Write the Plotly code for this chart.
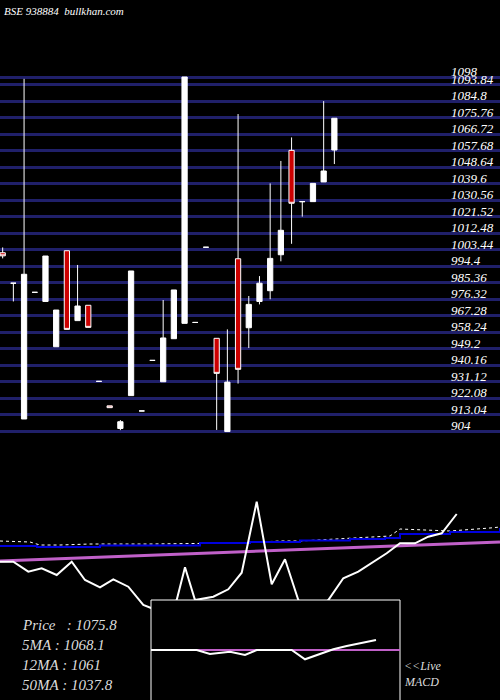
import plotly.graph_objects as go

# daily candles (oldest -> newest)
opens  = [1001.7, 985, 910.6, 980, 975, 950.2, 1002.8, 964.5, 972.9, 931.2, 917.8, 905.4, 923.4, 915, 942.7, 931,
          954.6, 963, 963.5, 1004.7, 954.8, 903.7, 998.4, 960.6, 975, 980.9, 1000.6, 1057.8, 1029.7, 1029.7, 1040.5, 1058]
highs  = [1004.6, 985, 1097, 980, 999.9, 970.3, 1002.8, 995, 972.9, 931.2, 917.8, 910, 991.7, 915, 942.7, 975.8,
          981.3, 1098, 963.5, 1004.7, 954.8, 959.7, 1077.7, 978, 988.9, 1039.7, 1052, 1064.9, 1029.7, 1039.7, 1084.8, 1075.4]
lows   = [998.6, 975, 910.6, 980, 975, 950.2, 959.7, 964.5, 960.8, 931.2, 916.8, 904.5, 923.4, 915, 942.7, 931,
          954.6, 963, 963.5, 1004.7, 904.6, 903.7, 930, 949.5, 973.4, 976.2, 997, 1006.6, 1021.5, 1029.7, 1040.5, 1050.3]
closes = [1000, 985, 989.9, 980, 999.9, 970.3, 959.7, 972.5, 960.8, 931.2, 916.8, 909.1, 991.7, 915, 942.7, 955,
          981.3, 1098, 963.5, 1004.7, 935.6, 930.8, 937.8, 973.4, 985, 998.6, 1014, 1028.8, 1029.7, 1039.7, 1046.5, 1075.4]

price_levels = [904, 913.04, 922.08, 931.12, 940.16, 949.2, 958.24, 967.28, 976.32, 985.36, 994.4, 1003.44,
                1012.48, 1021.52, 1030.56, 1039.6, 1048.64, 1057.68, 1066.72, 1075.76, 1084.8, 1093.84, 1098]
level_labels = ["904", "913.04", "922.08", "931.12", "940.16", "949.2", "958.24", "967.28", "976.32", "985.36",
                "994.4", "1003.44", "1012.48", "1021.52", "1030.56", "1039.6", "1048.64", "1057.68", "1066.72",
                "1075.76", "1084.8", "1093.84", "1098"]

# lower panel (panel units, 0 at top of window)
osc_x = [0, 13.3, 28.3, 41.7, 56.7, 71.7, 85, 100, 113.3, 128.3, 143.3, 151.7, 165, 176.7, 185, 195, 213.3, 228.3,
         241.7, 256.7, 271.7, 285, 298.3, 313, 328.3, 343.3, 358.3, 371.7, 386.7, 400, 415, 428.3, 441.7, 456.7]
osc_y = [561.7, 561.7, 571.7, 568.3, 575, 561.7, 580, 587.3, 579.3, 586.7, 605, 608.3, 612, 600, 567.3, 600, 596.7,
         589.3, 572.7, 501.7, 584.3, 559.3, 600, 615, 600, 578.3, 571.7, 563.3, 553.3, 543.3, 543.3, 536.7, 533.3, 514]
blue_x = [0, 30, 37, 100, 200, 250, 300, 350, 385, 400, 450, 500]
blue_y = [546, 546, 547, 545.5, 543, 542, 540.5, 539, 538, 534, 532, 528]
dot_x = [0, 30, 40, 60, 90, 150, 240, 280, 300, 360, 390, 400, 450, 490, 500]
dot_y = [541, 542, 545, 545, 544, 544, 543, 541, 541, 538, 536, 529, 531, 528, 527]
pink_x = [0, 500]
pink_y = [561, 542]
macd_x = [151, 196.7, 210, 230, 245, 256.7, 291.7, 305, 333.3, 346.7, 376]
macd_y = [650, 650, 654, 651.7, 655, 650, 650, 659.3, 649.3, 646, 640]
sig_x = [151, 400]
sig_y = [650, 650]
box_x = [151, 400, 400, 151, 151]
box_y = [600, 600, 701, 701, 600]

serif = "Liberation Serif"
fig = go.Figure()

fig.add_trace(go.Candlestick(
    x=list(range(len(opens))), open=opens, high=highs, low=lows, close=closes,
    increasing=dict(line=dict(color="white", width=1), fillcolor="white"),
    decreasing=dict(line=dict(color="white", width=1), fillcolor="#cc0000"),
    whiskerwidth=0, showlegend=False, hoverinfo="skip"))

ax2 = dict(xaxis="x2", yaxis="y2", mode="lines", showlegend=False, hoverinfo="skip")
fig.add_trace(go.Scatter(x=dot_x, y=dot_y, line=dict(color="white", width=1, dash="dot"), **ax2))
fig.add_trace(go.Scatter(x=blue_x, y=blue_y, line=dict(color="#0000dd", width=2, shape="hv"), **ax2))
fig.add_trace(go.Scatter(x=pink_x, y=pink_y, line=dict(color="#c060c8", width=3), **ax2))
fig.add_trace(go.Scatter(x=osc_x, y=osc_y, line=dict(color="white", width=2), **ax2))
fig.add_trace(go.Scatter(x=box_x, y=box_y, fill="toself", fillcolor="black",
                         line=dict(color="white", width=1), **ax2))
fig.add_trace(go.Scatter(x=sig_x, y=sig_y, line=dict(color="#c060c8", width=2), **ax2))
fig.add_trace(go.Scatter(x=macd_x, y=macd_y, line=dict(color="white", width=2), **ax2))

for lv, lab in zip(price_levels, level_labels):
    fig.add_annotation(x=449, y=lv, xref="x2", yref="y", text="<i>" + lab + "</i>", showarrow=False,
                       xanchor="left", yanchor="bottom", yshift=-4,
                       font=dict(family=serif, size=13, color="white"))

fig.add_annotation(x=2, y=3, xref="x2", yref="y2", text="<i>BSE 938884  bullkhan.com</i>", showarrow=False,
                   xanchor="left", yanchor="top", font=dict(family=serif, size=11, color="white"))
for i, t in enumerate(["Price   : 1075.8", "5MA : 1068.1", "12MA : 1061", "50MA : 1037.8"]):
    fig.add_annotation(x=20, y=625 + 20 * i, xref="x2", yref="y2", text="<i>" + t + "</i>", showarrow=False,
                       xanchor="left", font=dict(family=serif, size=15, color="#dddddd"))
for i, t in enumerate(["<<Live", "MACD"]):
    fig.add_annotation(x=402, y=666 + 16 * i, xref="x2", yref="y2", text="<i>" + t + "</i>", showarrow=False,
                       xanchor="left", font=dict(family=serif, size=12, color="#dddddd"))

fig.update_layout(
    width=500, height=700, margin=dict(l=0, r=0, t=0, b=0),
    paper_bgcolor="black", plot_bgcolor="black",
    xaxis=dict(range=[-0.25, 46.48], visible=False, rangeslider=dict(visible=False)),
    yaxis=dict(range=[756.6, 1140.2], tickvals=price_levels, showticklabels=False,
               gridcolor="#20206a", gridwidth=3, zeroline=False),
    xaxis2=dict(range=[0, 500], overlaying="x", visible=False),
    yaxis2=dict(range=[700, 0], overlaying="y", visible=False),
)

fig.write_html("out.html", config={"displayModeBar": False},
               post_script="document.body.style.margin='0';document.body.style.background='black';")
